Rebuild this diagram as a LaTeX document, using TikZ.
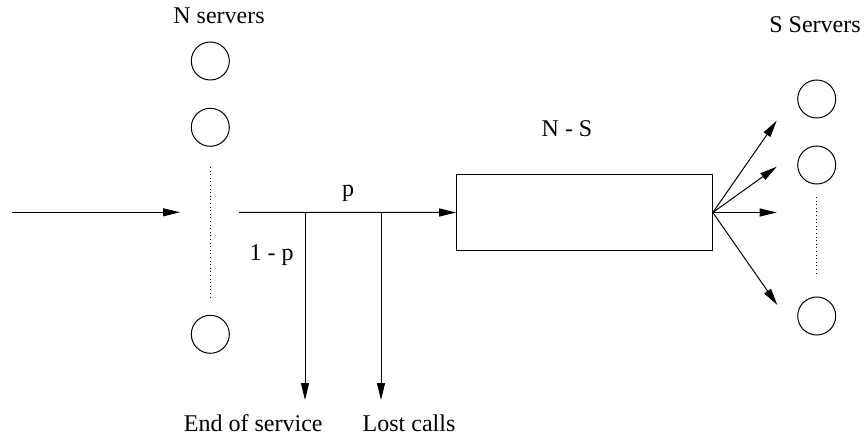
\documentclass[tikz,border=0pt]{standalone}
\usepackage{fontspec}
\newfontfamily\timesfont{Liberation Serif}
\usetikzlibrary{arrows.meta}
\begin{document}
\begin{tikzpicture}[x=0.5pt,y=-0.5pt,line width=0.5pt,
  font=\timesfont\fontsize{12}{14}\selectfont,
  server/.style={draw,circle,minimum size=19pt,inner sep=0pt},
  queuebox/.style={draw,rectangle,minimum width=127.8pt,minimum height=37.5pt,inner sep=0pt},
  flow/.style={-{Triangle[length=8.5pt,width=4pt]}},
  dots/.style={dash pattern=on 0.5pt off 1.3pt},
  lbl/.style={anchor=base,inner sep=0pt}]
\useasboundingbox (0,0) rectangle (865,438);
% labels
\node[lbl] (nserv) at (219,23.3) {N servers};
\node[lbl] (sserv) at (815,32.7) {S Servers};
\node[lbl] (ns) at (567,136.7) {N - S};
\node[lbl] (p) at (348,196) {p};
\node[lbl] (onemp) at (271.5,260) {1 - p};
\node[lbl] (eos) at (253.3,431) {End of service};
\node[lbl] (lost) at (409,431) {Lost calls};
% N servers
\node[server] (n1) at (210.3,61) {};
\node[server] (n2) at (210.3,127.3) {};
\node[server] (n3) at (210.3,334.3) {};
\coordinate (nd1) at (210.3,167);
\coordinate (nd2) at (210.3,298);
\draw[dots] (nd1) -- (nd2);
% S servers
\node[server] (s1) at (816.7,99) {};
\node[server] (s2) at (816.7,165) {};
\node[server] (s3) at (816.7,316) {};
\coordinate (sd1) at (816.7,197);
\coordinate (sd2) at (816.7,273);
\draw[dots] (sd1) -- (sd2);
% queue box
\node[queuebox] (q) at (584.5,212.5) {};
% input
\coordinate (in0) at (12,212.3);
\coordinate (in1) at (180,212.3);
\draw[flow] (in0) -- (in1);
% main line
\coordinate (out0) at (239,212.3);
\draw[flow] (out0) -- (q.west);
\coordinate (b1) at (305,212.3);
\coordinate (b2) at (381,212.3);
\coordinate (e1) at (305,400);
\coordinate (e2) at (381,400);
\draw[flow] (b1) -- (e1);
\draw[flow] (b2) -- (e2);
% fan
\coordinate (t1) at (776.7,120.7);
\coordinate (t2) at (776.7,166.7);
\coordinate (t3) at (776.7,212.5);
\coordinate (t4) at (777.3,305);
\draw[flow] (q.east) -- (t1);
\draw[flow] (q.east) -- (t2);
\draw[flow] (q.east) -- (t3);
\draw[flow] (q.east) -- (t4);
\end{tikzpicture}
\end{document}
